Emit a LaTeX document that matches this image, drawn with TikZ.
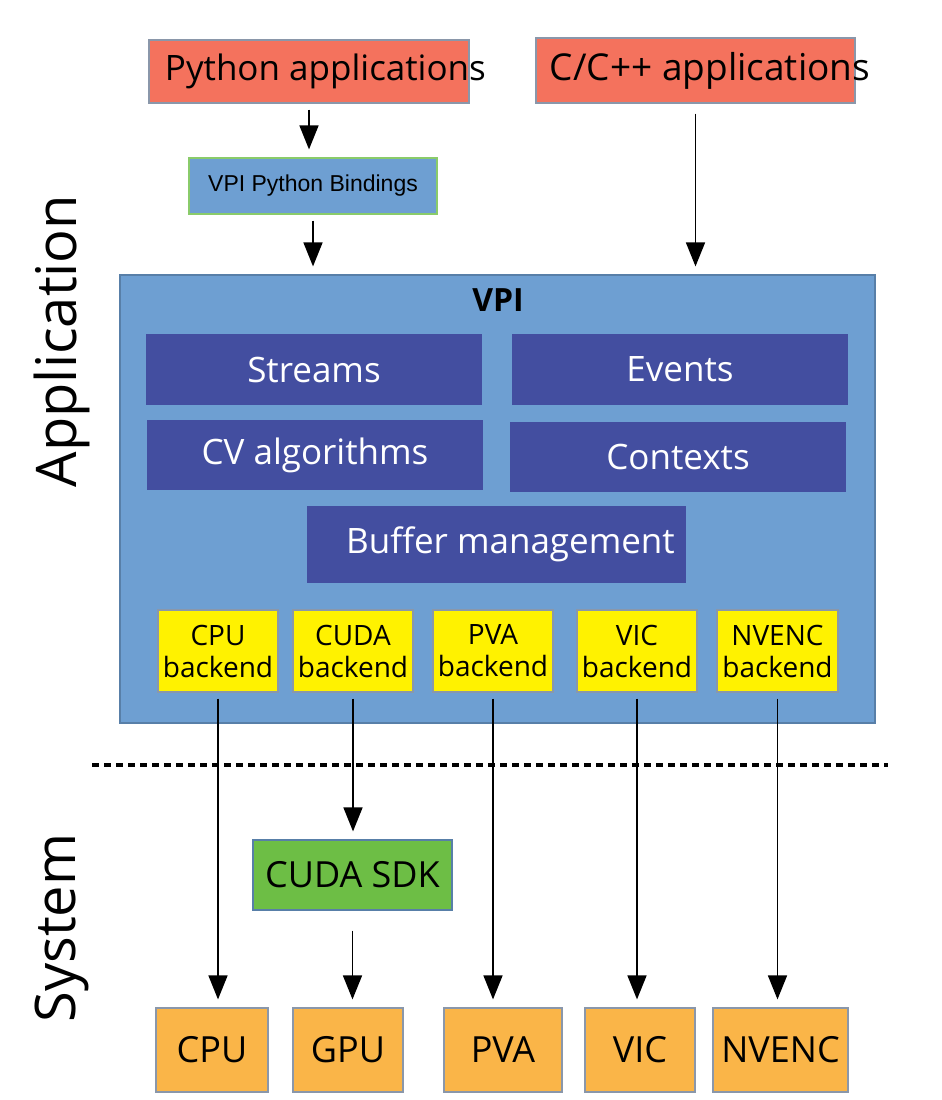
\documentclass[tikz,border=0pt]{standalone}
\usepackage{fontspec}
\setmainfont{Open Sans}
\newfontfamily\arialfont{Liberation Sans}
\usetikzlibrary{arrows.meta}
\definecolor{appred}{HTML}{F4725D}
\definecolor{vpiblue}{HTML}{6E9FD2}
\definecolor{modblue}{HTML}{434EA0}
\definecolor{beyellow}{HTML}{FFF200}
\definecolor{sdkgreen}{HTML}{6DBE45}
\definecolor{hworange}{HTML}{FAB548}
\definecolor{edgegray}{HTML}{8A97AA}

\begin{document}
\begin{tikzpicture}[x=1pt,y=-1pt,
      box/.style={draw=edgegray,line width=1.2pt,inner sep=0pt},
      app/.style={box,fill=appred},
      mod/.style={fill=modblue,text=white,inner sep=0pt,minimum width=336pt,minimum height=71pt,font=\fontsize{35}{40}\selectfont},
      be/.style={box,fill=beyellow,minimum width=120pt,minimum height=82pt,align=center,font=\fontsize{28}{32}\selectfont},
      hw/.style={box,fill=hworange,minimum height=84pt,font=\fontsize{36}{40}\selectfont},
      side/.style={rotate=90,font=\fontsize{56}{60}\selectfont},
      arr/.style={-{Triangle[length=24pt,width=19pt]},line width=1.6pt,shorten >=8pt,shorten <=6pt}]
    \useasboundingbox (0,0) rectangle (942,1100);
    % application side
    \node[app,minimum width=320pt,minimum height=63pt] (py) at (309,71.5) {};
    \node[anchor=west,font=\fontsize{35}{40}\selectfont] (pyt) at ([xshift=13pt]py.west) {Python applications};
    \node[app,minimum width=319pt,minimum height=65pt] (cpp) at (695.5,70.5) {};
    \node[anchor=west,font=\fontsize{37}{42}\selectfont] (cppt) at ([xshift=11pt]cpp.west) {C/C++ applications};
    \node[box,draw=sdkgreen!80,fill=vpiblue,minimum width=248pt,minimum height=56pt,font=\arialfont\fontsize{23}{26}\selectfont] (bind) at (313,186) {VPI Python Bindings};
    \node[box,draw=vpiblue!80!black,fill=vpiblue,minimum width=755pt,minimum height=448pt] (vpi) at (497.5,499) {};
    \node[font=\bfseries\fontsize{32}{36}\selectfont] (vpit) at (498,300) {VPI};
    \node[mod] (str) at (314,369.5) {Streams};
    \node[mod] (evt) at (680,369.5) {Events};
    \node[mod,minimum height=70pt] (cv) at (315,455) {CV algorithms};
    \node[mod,minimum height=70pt] (ctx) at (678,457) {Contexts};
    \node[mod,minimum width=379pt,minimum height=77pt] (buf) at (496.5,544.5) {\hspace{28pt}Buffer management};
    \node[be] (cpub) at (218,651) {CPU\\backend};
    \node[be] (cudab) at (353,651) {CUDA\\backend};
    \node[be] (pvab) at (493,651) {PVA\\backend};
    \node[be] (vicb) at (637,651) {VIC\\backend};
    \node[be,minimum width=121pt] (nvencb) at (777.5,651) {NVENC\\backend};
    \node[side] (appl) at (62,341) {Application};
    % system side
    \coordinate (sepl) at (92,765);
    \coordinate (sepr) at (888,765);
    \draw[line width=4pt,dash pattern=on 7pt off 5pt] (sepl) -- (sepr);
    \node[side] (sysl) at (62,928) {System};
    \node[box,draw=vpiblue!80!black,fill=sdkgreen,minimum width=199pt,minimum height=70pt,font=\fontsize{36}{40}\selectfont] (sdk) at (352.5,875) {CUDA SDK};
    \node[hw,minimum width=112pt] (cpu) at (212,1050) {CPU};
    \node[hw,minimum width=110pt] (gpu) at (348,1050) {GPU};
    \node[hw,minimum width=118pt] (pva) at (503,1050) {PVA};
    \node[hw,minimum width=110pt] (vic) at (640,1050) {VIC};
    \node[hw,minimum width=135pt] (nvenc) at (780.5,1050) {NVENC};
    % arrows
    \draw[arr] (py.south) -- (py.south |- bind.north);
    \draw[arr] (bind.south) -- (bind.south |- vpi.north);
    \draw[arr,shorten <=10pt] (cpp.south) -- (cpp.south |- vpi.north);
    \foreach \b/\h in {cpub/cpu,pvab/pva,vicb/vic,nvencb/nvenc}
      \draw[arr] (\b.south) -- (\b.south |- \h.north);
    \draw[arr] (cudab.south) -- (cudab.south |- sdk.north);
    \draw[arr,shorten <=20pt] (sdk.south) -- (sdk.south |- gpu.north);
  \end{tikzpicture}
\end{document}
